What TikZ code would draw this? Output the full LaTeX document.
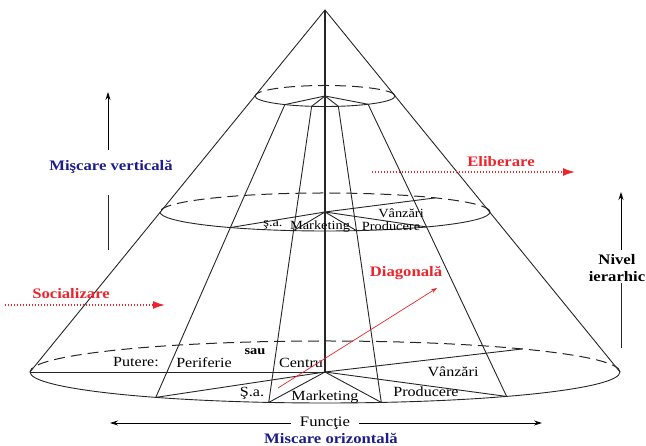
\documentclass[tikz,border=0pt]{standalone}
\usepackage{fontspec}
\setmainfont{Liberation Serif}[FakeStretch=1.15]
\usetikzlibrary{arrows.meta}
\definecolor{labelblue}{RGB}{28,28,140}
\definecolor{labelred}{RGB}{236,36,44}

\begin{document}
\begin{tikzpicture}[
  x=1pt, y=1pt,
  rim/.style={line width=0.9pt, black!85},
  hidden/.style={line width=1pt, black!85, dash pattern=on 11pt off 6pt},
  spine/.style={line width=1.6pt, black!85},
  baselabel/.style={inner sep=0pt, font=\fontsize{14}{14}\selectfont},
  midlabel/.style={inner sep=0pt, font=\fontsize{12.5}{13}\selectfont},
  movelabel/.style={inner sep=0pt, font=\fontsize{14.5}{17}\selectfont\bfseries, text=labelblue},
  flowlabel/.style={inner sep=0pt, font=\fontsize{14.5}{17}\selectfont\bfseries, text=labelred},
  arrow/.style={line width=0.8pt, -{Stealth[length=8pt,width=5pt]}},
  redarrow/.style={labelred, line width=1.4pt, dash pattern=on 1.4pt off 1.6pt, -{Latex[length=12pt,width=8pt]}},
  diag/.style={labelred, line width=0.7pt, -{Stealth[length=6pt,width=4pt]}}
]
\useasboundingbox (0,0) rectangle (646,446);

\coordinate (apex) at (325,436);
\coordinate (c0) at (325,74);
\coordinate (c1) at (325,234);
\coordinate (c2) at (325,350);

\foreach \lvl/\cy/\rx/\ry in {0/74/295/31, 1/234/165/19, 2/350/70/10.5} {
  \foreach \n/\t in {a/-125, b/-101, c/-79, d/-52, e/48, w/180, o/0}
    \coordinate (p\lvl\n) at ({325+\rx*cos(\t)}, {\cy+\ry*sin(\t)});
  \draw[hidden] (p\lvl o) arc[start angle=0, end angle=180, x radius=\rx, y radius=\ry];
  \draw[rim] (p\lvl w) arc[start angle=180, end angle=360, x radius=\rx, y radius=\ry];
}

\draw[rim] (p0w) -- (apex) -- (p0o);
\draw[spine] (apex) -- (c0);
\foreach \n in {a,b,c,d}
  \draw[rim] (p2\n) -- (p1\n) -- (p0\n);
\foreach \n in {w,a,b,c,d,e}
  \draw[rim] (c0) -- (p0\n);
\foreach \n in {a,b,c,d,e}
  \draw[rim] (c1) -- (p1\n);
\foreach \n in {a,b,c,d}
  \draw[rim] (c2) -- (p2\n);

\node[baselabel] (putere) at (136,84) {Putere:};
\node[baselabel] (periferie) at (204,83) {Periferie};
\node[baselabel, font=\fontsize{12.5}{13}\selectfont\bfseries] (sau) at (255,94) {sau};
\node[baselabel] (centru) at (301,83) {Centru};
\node[baselabel] (sa0) at (252,53) {Ş.a.};
\node[baselabel] (mkt0) at (325,49) {Marketing};
\node[baselabel] (prod0) at (426,54) {Producere};
\node[baselabel] (vanz0) at (453,74) {Vânzări};

\node[midlabel] (sa1) at (273,221) {ş.a.};
\node[midlabel] (mkt1) at (320,219) {Marketing};
\node[midlabel] (prod1) at (391,220) {Producere};
\node[midlabel] (vanz1) at (401,233) {Vânzări};

\node[movelabel] (vert) at (111,279) {Mişcare verticală};
\coordinate (vtop) at (108,354);
\coordinate (vgapt) at (108,296);
\coordinate (vgapb) at (108,251);
\coordinate (vbot) at (108,196);
\draw[arrow] (vgapt) -- (vtop);
\draw[rim] (vbot) -- (vgapb);

\node[movelabel, text=black, align=center] (nivel) at (617,178) {Nivel\\ierarhic};
\coordinate (ntop) at (621,254);
\coordinate (ngapt) at (621,196);
\coordinate (ngapb) at (621,163);
\coordinate (nbot) at (621,98);
\draw[arrow] (ngapt) -- (ntop);
\draw[rim] (nbot) -- (ngapb);

\node[flowlabel] (elib) at (501,284) {Eliberare};
\coordinate (el0) at (372,274);
\coordinate (el1) at (575,274);
\draw[redarrow] (el0) -- (el1);

\node[flowlabel] (soc) at (71,152) {Socializare};
\coordinate (so0) at (5,141);
\coordinate (so1) at (165,141);
\draw[redarrow] (so0) -- (so1);

\node[flowlabel] (diagl) at (406,173) {Diagonală};
\coordinate (di0) at (278,58);
\coordinate (di1) at (437,158);
\draw[diag] (di0) -- (di1);

\node[baselabel, font=\fontsize{14.5}{15}\selectfont, inner xsep=9pt] (func) at (325,23) {Funcţie};
\coordinate (fleft) at (110,23);
\coordinate (fright) at (542,23);
\draw[arrow] (func.west) -- (fleft);
\draw[arrow] (func.east) -- (fright);
\node[movelabel] (oriz) at (331,8) {Miscare orizontală};
\end{tikzpicture}
\end{document}
